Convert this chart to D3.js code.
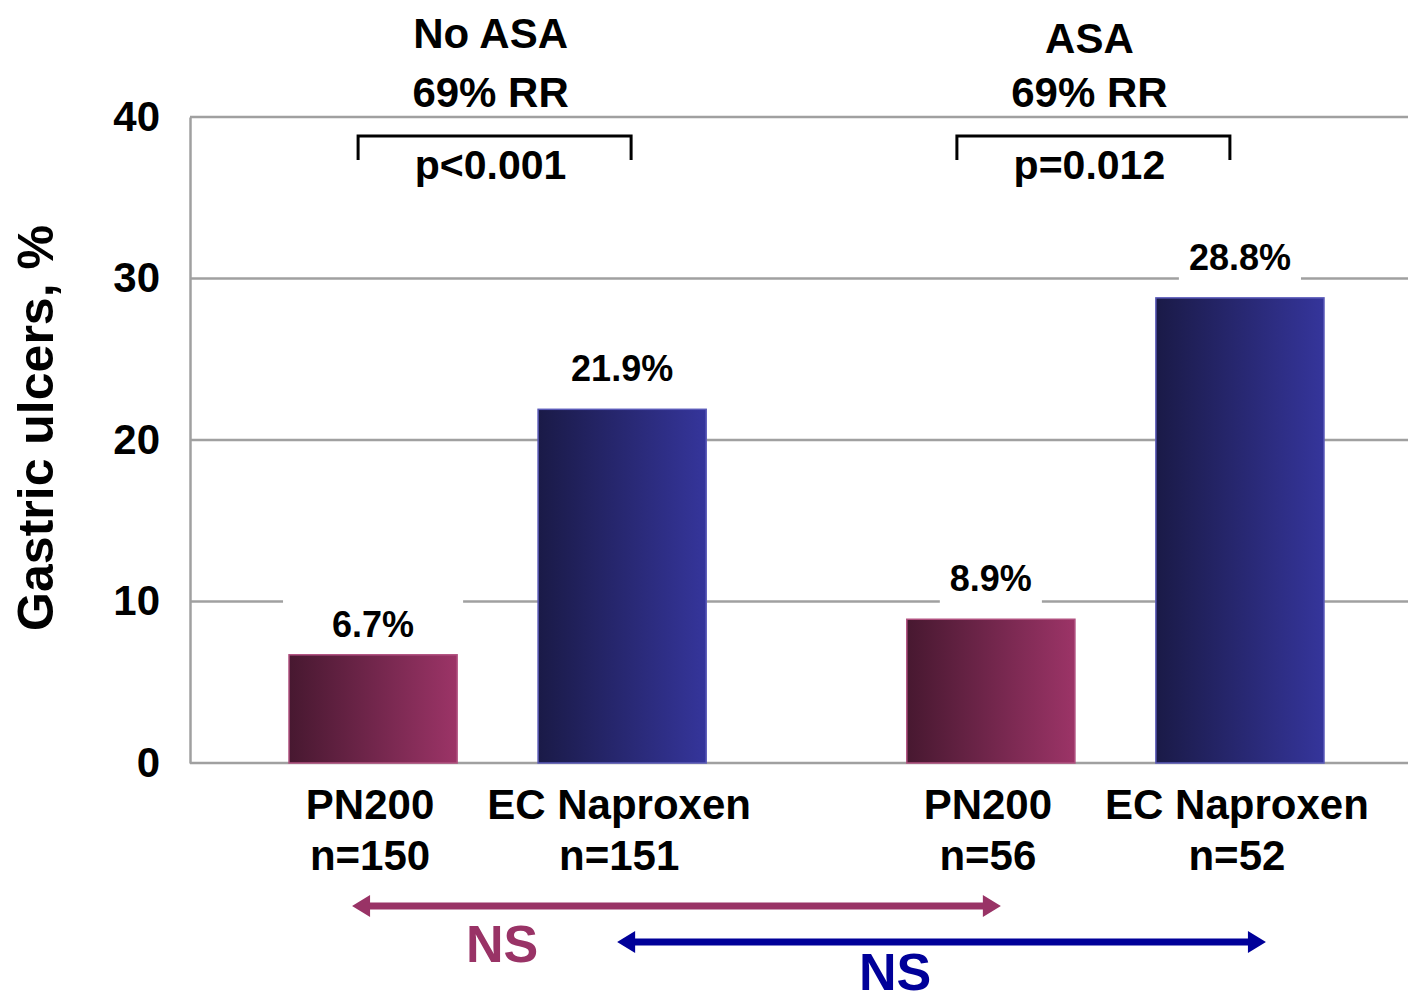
<!DOCTYPE html>
<html><head><meta charset="utf-8">
<script src="https://cdn.jsdelivr.net/npm/d3@7"></script>
<style>
body{margin:0;background:#fff}
text{font-family:"Liberation Sans",Arial,sans-serif;font-weight:bold}
</style>
</head><body><svg id="chart" width="1408" height="1001"></svg>
<script>
// Gastric ulcer incidence by treatment, split by low-dose aspirin use
const groups = ["No ASA", "ASA"];
const treatments = ["PN200", "EC Naproxen"];
const sampleSizes = [[150, 151], [56, 52]];
const ulcerRates = [[6.7, 21.9], [8.9, 28.8]];
const relativeRisk = ["69% RR", "69% RR"];
const pValues = ["p<0.001", "p=0.012"];
const yTicks = [0, 10, 20, 30, 40];
const crossComparisons = [
  {treatment: "PN200", label: "NS"},
  {treatment: "EC Naproxen", label: "NS"}
];

const svg = d3.select("#chart");
const W = 1408;
const plotLeft = 190, plotTop = 117, plotBottom = 763;
const treatmentColor = {"PN200": "#993366", "EC Naproxen": "#000099"};

const y = d3.scaleLinear().domain([0, 40]).range([plotBottom, plotTop]);
const x0 = d3.scaleBand().domain(groups).range([289, 1324]).paddingInner(0.3247).paddingOuter(0);
const x1 = d3.scaleBand().domain(treatments).range([0, x0.bandwidth()]).paddingInner(0.325).paddingOuter(0);
const barCenter = (g, t) => x0(g) + x1(t) + x1.bandwidth() / 2;

// gradients for bars
const defs = svg.append("defs");
const grads = [
  {id: "gPN", from: "#471830", to: "#9c3467"},
  {id: "gEC", from: "#1a1a47", to: "#35359b"}
];
grads.forEach(g => {
  const lg = defs.append("linearGradient").attr("id", g.id)
    .attr("x1", "0%").attr("x2", "100%").attr("y1", "0%").attr("y2", "0%");
  lg.append("stop").attr("offset", "0%").attr("stop-color", g.from);
  lg.append("stop").attr("offset", "100%").attr("stop-color", g.to);
});
const fillFor = t => t === "PN200" ? "url(#gPN)" : "url(#gEC)";
const edgeFor = t => t === "PN200" ? "#b0507f" : "#5a5ab8";

// gridlines (including frame top and baseline)
svg.append("g").selectAll("line").data(yTicks).join("line")
  .attr("x1", plotLeft).attr("x2", W)
  .attr("y1", d => y(d)).attr("y2", d => y(d))
  .attr("stroke", "#a0a0a0").attr("stroke-width", 2.5);

// left axis with tick labels
const yAxis = d3.axisLeft(y).tickValues(yTicks).tickSize(0).tickPadding(30);
const gy = svg.append("g").attr("transform", `translate(${plotLeft},0)`).call(yAxis);
gy.select(".domain").attr("stroke", "#a0a0a0").attr("stroke-width", 2.5);
gy.selectAll("text").attr("font-size", 42).attr("fill", "#000")
  .attr("font-family", "Liberation Sans, Arial, sans-serif").attr("font-weight", "bold");

// flat records
const records = [];
groups.forEach((g, gi) => treatments.forEach((t, ti) => {
  records.push({group: g, treatment: t, value: ulcerRates[gi][ti], n: sampleSizes[gi][ti]});
}));

// value labels with white backing that interrupts gridlines
const labelLayout = {"No ASA|PN200": {gap: 18, pad: 49}};
const labels = svg.append("g");
records.forEach(r => {
  const lay = labelLayout[r.group + "|" + r.treatment] || {gap: 28, pad: 10};
  const cx = barCenter(r.group, r.treatment);
  const t = labels.append("text").attr("x", cx).attr("y", y(r.value) - lay.gap)
    .attr("text-anchor", "middle").attr("font-size", 36).attr("fill", "#000")
    .text(r.value.toFixed(1) + "%");
  const bb = t.node().getBBox();
  labels.insert("rect", "text").attr("x", bb.x - lay.pad).attr("y", bb.y - 4)
    .attr("width", bb.width + 2 * lay.pad).attr("height", y(r.value) - bb.y + 4)
    .attr("fill", "#fff");
});

// bars
svg.append("g").selectAll("rect").data(records).join("rect")
  .attr("x", d => x0(d.group) + x1(d.treatment))
  .attr("y", d => y(d.value))
  .attr("width", x1.bandwidth())
  .attr("height", d => y(0) - y(d.value))
  .attr("fill", d => fillFor(d.treatment))
  .attr("stroke", d => edgeFor(d.treatment)).attr("stroke-width", 1.5);

// category labels
const cat = svg.append("g");
records.forEach(r => {
  const cx = barCenter(r.group, r.treatment) - 3;
  cat.append("text").attr("x", cx).attr("y", 819).attr("text-anchor", "middle")
    .attr("font-size", 42).text(r.treatment);
  cat.append("text").attr("x", cx).attr("y", 870).attr("text-anchor", "middle")
    .attr("font-size", 42).text("n=" + r.n);
});

// y axis title
svg.append("text").attr("transform", "translate(53,428) rotate(-90)")
  .attr("text-anchor", "middle").attr("font-size", 50).text("Gastric ulcers, %");

// group headers, brackets and p-values
const headerShift = [-7, -26];
const bracketHalf = 136.5;
groups.forEach((g, gi) => {
  const cx = x0(g) + x0.bandwidth() / 2 + headerShift[gi];
  svg.append("text").attr("x", cx).attr("y", gi === 0 ? 48 : 53).attr("text-anchor", "middle")
    .attr("font-size", 42).text(g);
  svg.append("text").attr("x", cx).attr("y", 107).attr("text-anchor", "middle")
    .attr("font-size", 42).text(relativeRisk[gi]);
  const bx = cx + 4;
  svg.append("path")
    .attr("d", `M${bx - bracketHalf},160 V136 H${bx + bracketHalf} V160`)
    .attr("fill", "none").attr("stroke", "#000").attr("stroke-width", 3);
  svg.append("text").attr("x", cx).attr("y", 179).attr("text-anchor", "middle")
    .attr("font-size", 41).text(pValues[gi]);
});

// cross-group comparison arrows
const arrowRows = [
  {y: 906, dx: [-21, 10], labelX: 502, labelY: 962},
  {y: 942, dx: [-5, 26], labelX: 895, labelY: 990}
];
crossComparisons.forEach((c, i) => {
  const row = arrowRows[i];
  const col = treatmentColor[c.treatment];
  const xa = barCenter(groups[0], c.treatment) + row.dx[0];
  const xb = barCenter(groups[1], c.treatment) + row.dx[1];
  const hl = 18, hh = 11, lw = 3.5;
  const yy = row.y;
  svg.append("path")
    .attr("d", `M${xa},${yy} L${xa + hl},${yy - hh} L${xa + hl},${yy - lw} L${xb - hl},${yy - lw} L${xb - hl},${yy - hh} L${xb},${yy} L${xb - hl},${yy + hh} L${xb - hl},${yy + lw} L${xa + hl},${yy + lw} L${xa + hl},${yy + hh} Z`)
    .attr("fill", col);
  svg.append("text").attr("x", row.labelX).attr("y", row.labelY).attr("text-anchor", "middle")
    .attr("font-size", 52).attr("fill", col).text(c.label);
});
</script>
</body></html>
